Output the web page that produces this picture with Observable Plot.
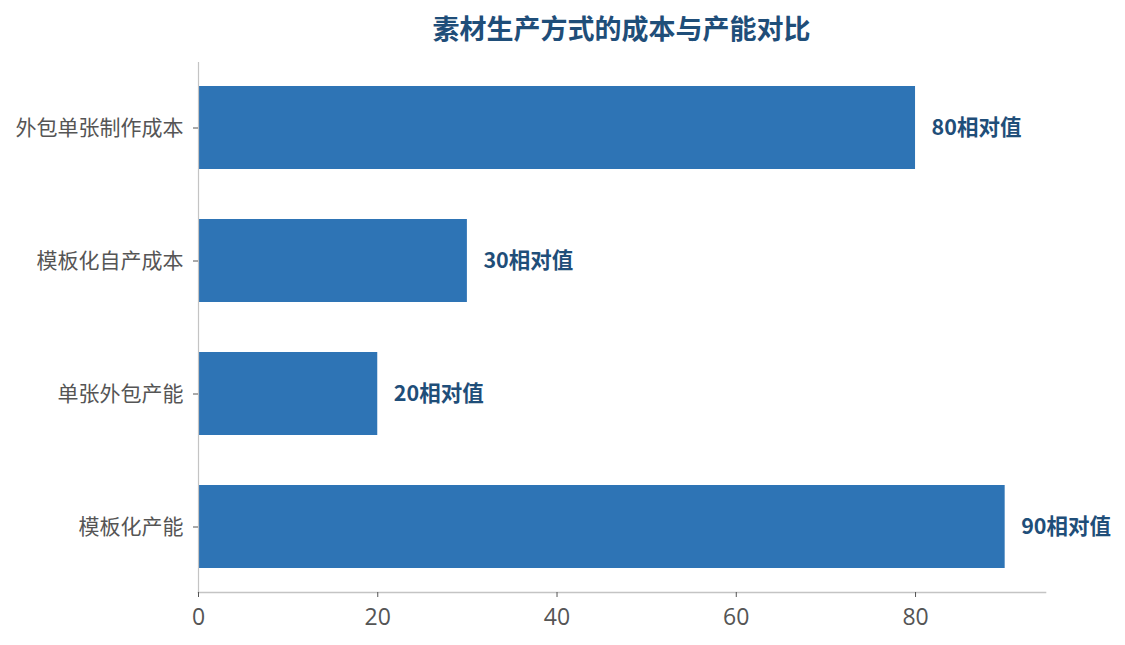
<!DOCTYPE html>
<html><head><meta charset="utf-8">
<script src="https://cdn.jsdelivr.net/npm/d3@7"></script>
<script src="https://cdn.jsdelivr.net/npm/@observablehq/plot@0.6"></script>
<style>
body{margin:0;background:#fff;font-family:"Noto Sans CJK SC","Noto Sans",sans-serif;}
#title{height:50px;width:1125px;box-sizing:border-box;padding-left:198px;padding-right:80px;text-align:center;font-size:27px;font-weight:bold;color:#1f4e79;line-height:56px;}
</style></head>
<body>
<div id="title">素材生产方式的成本与产能对比</div>
<div id="chart"></div>
<script>
const categories = ["外包单张制作成本","模板化自产成本","单张外包产能","模板化产能"];
const values = [80, 30, 20, 90];
const valueSuffix = "相对值";
const xTicks = [0, 20, 40, 60, 80];

const data = categories.map((c, i) => ({category: c, value: values[i]}));

const chart = Plot.plot({
  width: 1125,
  height: 595,
  marginLeft: 198,
  marginRight: 80,
  marginTop: 12,
  marginBottom: 53,
  style: {fontFamily: '"Noto Sans CJK SC","Noto Sans",sans-serif', background: "#fff"},
  x: {domain: [0, 94.5], ticks: xTicks, label: null},
  y: {domain: categories, paddingInner: 0.375, paddingOuter: 0.175, label: null},
  marks: [
    Plot.barX(data, {x: "value", y: "category", fill: "#2e74b5"}),
    Plot.text(data, {x: "value", y: "category", text: d => d.value + valueSuffix, textAnchor: "start", dx: 16, fill: "#1f4e79", fontSize: 21.5, fontWeight: "bold"}),
    Plot.frame({anchor: "left", stroke: "#c4c4c4", strokeWidth: 1.2}),
    Plot.frame({anchor: "bottom", stroke: "#c4c4c4", strokeWidth: 1.6}),
    Plot.axisX({ticks: xTicks, tickSize: 5, tickFormat: () => "", stroke: "#555", label: null}),
    Plot.text(xTicks, {x: d => d, frameAnchor: "bottom", lineAnchor: "middle", dy: 25, text: d => String(d), fontSize: 23, fontFamily: '"Open Sans", sans-serif', fill: "#555"}),
    Plot.axisY({tickSize: 5, tickPadding: 10, fontSize: 21, color: "#555", stroke: "#555", label: null})
  ]
});
document.getElementById("chart").appendChild(chart);
</script>
</body></html>
